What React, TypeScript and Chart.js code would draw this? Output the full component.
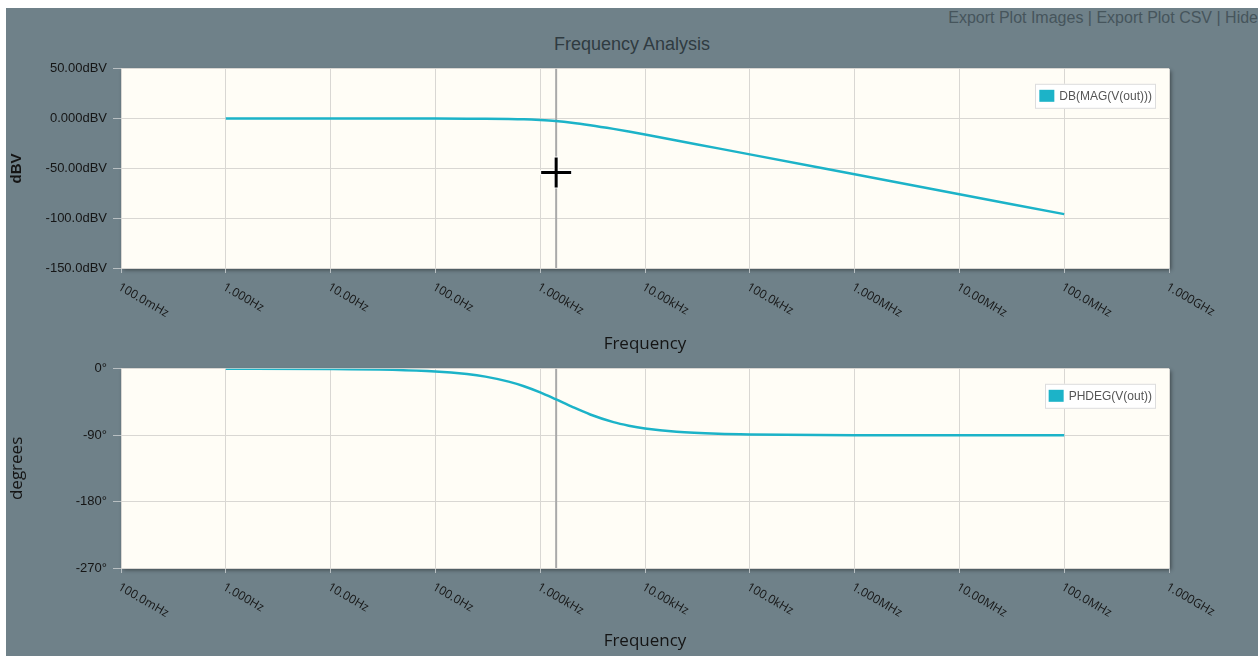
import React, { useEffect, useRef } from "react";
import { Chart, registerables } from "chart.js";

Chart.register(...registerables);

// ---- data ----
const FREQS = [1, 10, 100, 200, 300, 500, 700, 1000, 1400, 2000, 3000, 5000, 7000, 10000, 20000, 50000, 100000, 1e6, 1e7, 1e8];
const MAG_DB = [0, 0, -0.02, -0.07, -0.15, -0.4, -0.75, -1.5, -2.5, -4.1, -6.6, -10.3, -13.0, -16.0, -22.0, -29.9, -35.9, -55.9, -75.9, -95.9];
const PHASE_DEG = [0, -0.4, -3.6, -7.1, -10.6, -17.4, -23.6, -32.0, -41.2, -51.3, -61.9, -72.3, -77.1, -80.9, -85.4, -88.2, -89.1, -89.9, -90, -90];

const X_TICK_VALUES = [0.1, 1, 10, 100, 1e3, 1e4, 1e5, 1e6, 1e7, 1e8, 1e9];
const X_TICK_LABELS = ["100.0mHz", "1.000Hz", "10.00Hz", "100.0Hz", "1.000kHz", "10.00kHz", "100.0kHz", "1.000MHz", "10.00MHz", "100.0MHz", "1.000GHz"];
const MAG_TICK_VALUES = [-150, -100, -50, 0, 50];
const MAG_TICK_LABELS = ["-150.0dBV", "-100.0dBV", "-50.00dBV", "0.000dBV", "50.00dBV"];
const PHASE_TICK_VALUES = [-270, -180, -90, 0];
const PHASE_TICK_LABELS = ["-270°", "-180°", "-90°", "0°"];

const CURSOR_FREQ = 1420;
const CROSSHAIR_DB = -54;

// ---- styles ----
const BG = "#6f8189";
const PLOT_BG = "#fffdf6";
const GRID = "#d9d7d3";
const TICK_MARK = "#b8bfc2";
const LINE = "#1cb3c8";
const W = 1252;
const H = 648;

const decorPlugin = {
  id: "decor",
  beforeDraw(chart: any) {
    const { ctx, chartArea: a } = chart;
    ctx.save();
    ctx.shadowColor = "rgba(0,0,0,0.45)";
    ctx.shadowBlur = 4;
    ctx.shadowOffsetX = 2;
    ctx.shadowOffsetY = 2;
    ctx.fillStyle = PLOT_BG;
    ctx.fillRect(a.left, a.top, a.right - a.left, a.bottom - a.top);
    ctx.restore();
  },
  beforeDatasetsDraw(chart: any) {
    const { ctx, chartArea: a } = chart;
    const px = chart.scales.x.getPixelForValue(CURSOR_FREQ);
    ctx.save();
    ctx.strokeStyle = "#a9a9a9";
    ctx.lineWidth = 2;
    ctx.beginPath();
    ctx.moveTo(px, a.top);
    ctx.lineTo(px, a.bottom);
    ctx.stroke();
    ctx.restore();
  },
  afterDraw(chart: any, _args: any, opts: any) {
    const { ctx, chartArea: a } = chart;
    const xs = chart.scales.x;
    // rotated x tick labels
    ctx.save();
    ctx.font = '12px "Open Sans"';
    ctx.fillStyle = "#161616";
    ctx.textAlign = "left";
    ctx.textBaseline = "top";
    X_TICK_VALUES.forEach((v, i) => {
      const px = xs.getPixelForValue(v);
      ctx.save();
      ctx.translate(px + 1, a.bottom + 13);
      ctx.rotate((30 * Math.PI) / 180);
      ctx.fillText(X_TICK_LABELS[i], 0, 0);
      ctx.restore();
    });
    ctx.restore();

    // legend box inside the plot
    const ds = chart.data.datasets[0];
    ctx.save();
    ctx.font = '12px "Liberation Sans", Arial';
    const tw = ctx.measureText(ds.label).width;
    const bw = 4 + 15 + 5 + tw + 4;
    const bh = 25;
    const bx = a.right - 13 - bw;
    const by = a.top + 15;
    ctx.fillStyle = "#ffffff";
    ctx.fillRect(bx, by, bw, bh);
    ctx.strokeStyle = "#dddddd";
    ctx.lineWidth = 1;
    ctx.strokeRect(Math.round(bx) + 0.5, by + 0.5, Math.round(bw) - 1, bh - 1);
    ctx.fillStyle = ds.borderColor;
    ctx.fillRect(bx + 4, by + 6, 15, 12);
    ctx.fillStyle = "#555555";
    ctx.textBaseline = "middle";
    ctx.textAlign = "left";
    ctx.fillText(ds.label, bx + 24, by + bh / 2 + 0.5);
    ctx.restore();

    // mouse crosshair
    if (opts && opts.crosshair) {
      const cx = xs.getPixelForValue(CURSOR_FREQ);
      const cy = chart.scales.y.getPixelForValue(CROSSHAIR_DB);
      ctx.save();
      ctx.lineCap = "butt";
      ctx.strokeStyle = "rgba(255,255,255,0.9)";
      ctx.lineWidth = 5;
      ctx.beginPath();
      ctx.moveTo(cx - 16, cy); ctx.lineTo(cx + 16, cy);
      ctx.moveTo(cx, cy - 16); ctx.lineTo(cx, cy + 16);
      ctx.stroke();
      ctx.strokeStyle = "#000000";
      ctx.lineWidth = 3;
      ctx.beginPath();
      ctx.moveTo(cx - 15, cy); ctx.lineTo(cx + 15, cy);
      ctx.moveTo(cx, cy - 15); ctx.lineTo(cx, cy + 15);
      ctx.stroke();
      ctx.restore();
    }
  },
};

type Spec = {
  label: string;
  values: number[];
  yTickValues: number[];
  yTickLabels: string[];
  yTitle: string;
  yTitleFont: any;
  yTitleOffset: number;
  padTop: number;
  xHeight: number;
  xTitleOffset: number;
  crosshair: boolean;
};

function buildConfig(s: Spec): any {
  const yMin = Math.min(...s.yTickValues);
  const yMax = Math.max(...s.yTickValues);
  return {
    type: "line",
    data: {
      datasets: [
        {
          label: s.label,
          data: FREQS.map((f, i) => ({ x: f, y: s.values[i] })),
          borderColor: LINE,
          backgroundColor: LINE,
          borderWidth: 2.5,
          pointRadius: 0,
          cubicInterpolationMode: "monotone",
          fill: false,
        },
      ],
    },
    options: {
      animation: false,
      responsive: false,
      maintainAspectRatio: false,
      events: [],
      layout: { padding: { top: s.padTop, right: 89, left: 0, bottom: 0 } },
      plugins: {
        legend: { display: false },
        tooltip: { enabled: false },
        decor: { crosshair: s.crosshair },
      },
      scales: {
        x: {
          type: "logarithmic",
          min: 0.1,
          max: 1e9,
          afterBuildTicks: (sc: any) => {
            sc.ticks = X_TICK_VALUES.map((v) => ({ value: v }));
          },
          afterFit: (sc: any) => {
            sc.height = s.xHeight;
          },
          ticks: { display: false },
          grid: { color: GRID, tickColor: TICK_MARK, tickLength: 5, lineWidth: 1 },
          border: { display: false },
          title: {
            display: true,
            text: "Frequency",
            color: "#141414",
            font: { family: '"Open Sans"', size: 17, lineHeight: 1 },
            padding: { top: 0, bottom: s.xTitleOffset - 8.5 },
          },
        },
        y: {
          type: "linear",
          min: yMin,
          max: yMax,
          afterBuildTicks: (sc: any) => {
            sc.ticks = s.yTickValues.map((v) => ({ value: v }));
          },
          afterFit: (sc: any) => {
            sc.width = 115;
          },
          ticks: {
            callback: (v: number) => s.yTickLabels[s.yTickValues.indexOf(v)],
            color: "#151515",
            font: { family: '"Liberation Sans", Arial', size: 13 },
            padding: 6,
          },
          grid: { color: GRID, tickColor: TICK_MARK, tickLength: 8, lineWidth: 1 },
          border: { display: false },
          title: {
            display: true,
            text: s.yTitle,
            color: "#141414",
            font: s.yTitleFont,
            padding: { top: s.yTitleOffset - s.yTitleFont.size / 2, bottom: 0 },
          },
        },
      },
    },
    plugins: [decorPlugin],
  };
}

function Panel({ spec, top, height }: { spec: Spec; top: number; height: number }) {
  const ref = useRef<HTMLCanvasElement>(null);
  useEffect(() => {
    const chart = new Chart(ref.current as HTMLCanvasElement, buildConfig(spec));
    return () => chart.destroy();
  }, []);
  return (
    <canvas
      ref={ref}
      width={W}
      height={height}
      style={{ position: "absolute", left: 0, top, width: W, height, display: "block" }}
    />
  );
}

const magSpec: Spec = {
  label: "DB(MAG(V(out)))",
  values: MAG_DB,
  yTickValues: MAG_TICK_VALUES,
  yTickLabels: MAG_TICK_LABELS,
  yTitle: "dBV",
  yTitleFont: { family: '"Liberation Sans", Arial', size: 15, weight: "bold", lineHeight: 1 },
  yTitleOffset: 11,
  padTop: 13,
  xHeight: 90,
  xTitleOffset: 14,
  crosshair: true,
};

const phaseSpec: Spec = {
  label: "PHDEG(V(out))",
  values: PHASE_DEG,
  yTickValues: PHASE_TICK_VALUES,
  yTickLabels: PHASE_TICK_LABELS,
  yTitle: "degrees",
  yTitleFont: { family: '"Open Sans"', size: 17, lineHeight: 1 },
  yTitleOffset: 11,
  padTop: 13,
  xHeight: 88,
  xTitleOffset: 15,
  crosshair: false,
};

export default function App() {
  useEffect(() => {
    document.body.style.margin = "0";
    document.body.style.overflow = "hidden";
  }, []);
  return (
    <div
      style={{
        position: "absolute",
        left: 6,
        top: 8,
        width: W,
        height: H,
        background: BG,
        overflow: "hidden",
        fontFamily: '"Liberation Sans", Arial, sans-serif',
      }}
    >
      <div
        style={{
          position: "absolute",
          right: 0,
          top: 1,
          fontSize: 16,
          lineHeight: "18px",
          color: "#46555c",
          whiteSpace: "nowrap",
        }}
      >
        Export Plot Images | Export Plot CSV | Hide
      </div>
      <div
        style={{
          position: "absolute",
          left: 0,
          width: W,
          top: 26,
          textAlign: "center",
          fontSize: 18,
          lineHeight: "20px",
          color: "#2f3b41",
        }}
      >
        Frequency Analysis
      </div>
      <Panel spec={magSpec} top={47} height={303} />
      <Panel spec={phaseSpec} top={347} height={301} />
    </div>
  );
}
